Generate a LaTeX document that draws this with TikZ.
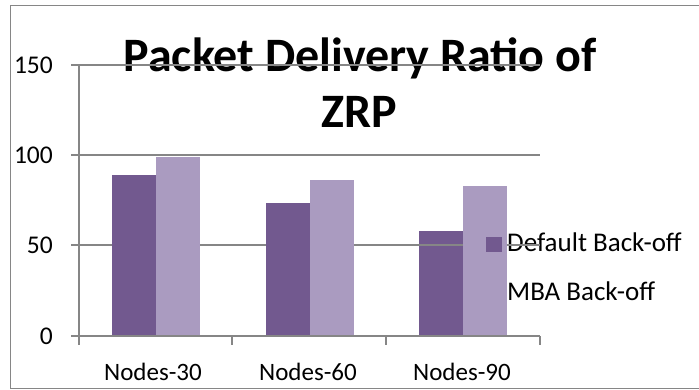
\documentclass[tikz,border=0pt]{standalone}
\usepackage{fontspec}
\setmainfont{Carlito}
\definecolor{darkbar}{RGB}{114,89,143}
\definecolor{lightbar}{RGB}{170,155,192}
\definecolor{gridc}{RGB}{134,134,134}
\begin{document}
\begin{tikzpicture}[x=1pt,y=-1pt,
  gridline/.style={draw=gridc,line width=1.1pt},
  bardark/.style={fill=darkbar,draw=none},
  barlight/.style={fill=lightbar,draw=none},
  ylab/.style={anchor=east,font=\fontsize{25.5}{30}\selectfont,inner sep=0pt},
  xlab/.style={anchor=base,font=\fontsize{25}{30}\selectfont,inner sep=0pt},
  leglab/.style={anchor=base west,font=\fontsize{27}{32}\selectfont,inner sep=0pt},
  titletext/.style={anchor=base,font=\bfseries\fontsize{48}{56}\selectfont,inner sep=0pt}]
\useasboundingbox (0,0) rectangle (699,390);
% outer frame
\draw[draw=gridc,line width=1pt] (10,6) rectangle (708,388);
% title
\node[titletext] (t1) at (360,72) {Packet Delivery Ratio of};
\node[titletext] (t2) at (359,128) {ZRP};
% gridlines
\foreach \yy in {65,155,245}{\draw[gridline] (71,\yy) -- (540,\yy);}
% bars
\path[bardark]  (112,175.0) rectangle (156,336) coordinate (d1);
\path[barlight] (156,156.7) rectangle (200,336) coordinate (l1);
\path[bardark]  (266,202.7) rectangle (310,336) coordinate (d2);
\path[barlight] (310,180.0) rectangle (354,336) coordinate (l2);
\path[bardark]  (419,230.7) rectangle (463,336) coordinate (d3);
\path[barlight] (463,186.0) rectangle (507,336) coordinate (l3);
% axes
\draw[gridline] (79,65) -- (79,345);
\draw[gridline] (71,336) -- (540,336);
\foreach \xx in {232,386,540}{\draw[gridline] (\xx,336) -- (\xx,345);}
% y labels
\node[ylab] (y150) at (53,65) {150};
\node[ylab] (y100) at (53,155) {100};
\node[ylab] (y50) at (53,245) {50};
\node[ylab] (y0) at (53,336) {0};
% x labels
\node[xlab] (c1) at (153,380) {Nodes-30};
\node[xlab] (c2) at (308,380) {Nodes-60};
\node[xlab] (c3) at (462,380) {Nodes-90};
% legend
\path[bardark] (486,237) rectangle (502,252);
\path[barlight] (486,285) rectangle (502,300);
\node[leglab] (lg1) at (507,252) {Default Back-off};
\node[leglab] (lg2) at (507,300) {MBA Back-off};
% gridline pieces drawn over the bar and legend text
\draw[gridline] (419,245) -- (463,245);
\draw[gridline] (507,245) -- (540,245);
\end{tikzpicture}
\end{document}
